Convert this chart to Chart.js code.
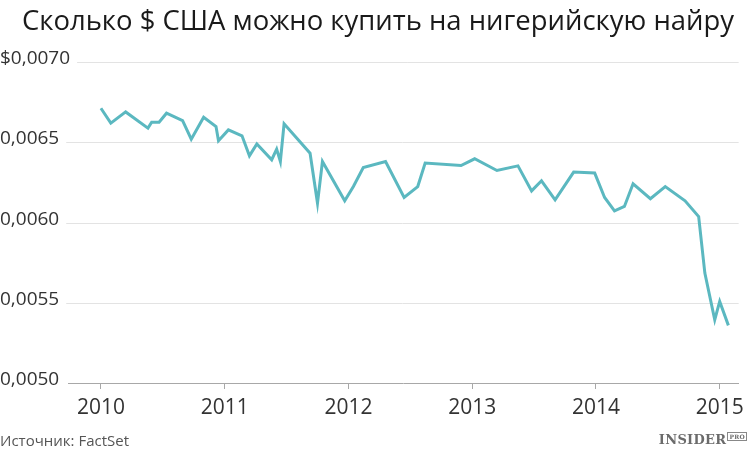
<!DOCTYPE html>
<html>
<head>
<meta charset="utf-8">
<script src="https://cdn.jsdelivr.net/npm/chart.js@4.4.1/dist/chart.umd.min.js"></script>
<style>
  html, body { margin: 0; padding: 0; background: #fff; }
  #wrap { position: relative; width: 750px; height: 456px; overflow: hidden; font-family: "Open Sans", sans-serif; }
  #chart { position: absolute; left: 0; top: 0; }
  #title { position: absolute; left: 22px; top: 0px; font-size: 28px; color: #1a1a1a; white-space: nowrap; transform-origin: 0 0; }
  #source { position: absolute; left: 0; top: 430px; font-size: 15px; color: #555; }
  #logo { position: absolute; right: 3px; top: 432px; font-family: "DejaVu Serif", "Liberation Serif", serif; font-weight: bold; font-size: 13px; color: #6b6b6b; letter-spacing: 0.3px; }
  #logo span { font-size: 6px; border: 1px solid #888; padding: 0 1px; vertical-align: 5px; margin-left: 1px; }
</style>
</head>
<body>
<div id="wrap">
  <canvas id="chart" width="750" height="456"></canvas>
  <div id="title">Сколько $ США можно купить на нигерийскую найру</div>
  <div id="source">Источник: FactSet</div>
  <div id="logo">INSIDER<span>PRO</span></div>
</div>
<script>
// Decimal year of each observation
const dates = [
  2010.00, 2010.08, 2010.20, 2010.38, 2010.41, 2010.47, 2010.53, 2010.66, 2010.73, 2010.83,
  2010.93, 2010.95, 2011.03, 2011.14, 2011.20, 2011.26, 2011.38, 2011.42, 2011.45, 2011.48,
  2011.69, 2011.75, 2011.79, 2011.97, 2012.04, 2012.12, 2012.30, 2012.45, 2012.56, 2012.62,
  2012.91, 2013.02, 2013.20, 2013.37, 2013.48, 2013.56, 2013.67, 2013.82, 2013.99, 2014.07,
  2014.15, 2014.23, 2014.30, 2014.44, 2014.56, 2014.72, 2014.83, 2014.88, 2014.96, 2015.00,
  2015.07
];
// USD per 1 naira
const usdPerNaira = [
  0.006712, 0.006619, 0.006689, 0.006588, 0.006625, 0.006625, 0.006681, 0.006635, 0.006519, 0.006656,
  0.006598, 0.006509, 0.006577, 0.006540, 0.006415, 0.006490, 0.006391, 0.006457, 0.006380, 0.006615,
  0.006432, 0.006121, 0.006380, 0.006135, 0.006224, 0.006343, 0.006380, 0.006156, 0.006224, 0.006370,
  0.006355, 0.006397, 0.006324, 0.006353, 0.006197, 0.006260, 0.006141, 0.006314, 0.006308, 0.006156,
  0.006073, 0.006100, 0.006241, 0.006148, 0.006224, 0.006135, 0.006037, 0.005685, 0.005394, 0.005508,
  0.005359
];
const yearTicks = [2010, 2011, 2012, 2013, 2014, 2015];
const yTicks = [0.0050, 0.0055, 0.0060, 0.0065, 0.0070];
const yTickLabels = ['0,0050', '0,0055', '0,0060', '0,0065', '$0,0070'];

// fit title width to the reference
const titleEl = document.getElementById('title');
const w = titleEl.getBoundingClientRect().width;
titleEl.style.transform = 'scaleX(' + (712 / w) + ')';

// y labels sit left of the gridlines, gridline starts after the label
const yGridPlugin = {
  id: 'yGrid',
  beforeDatasetsDraw(chart) {
    const { ctx, chartArea, scales } = chart;
    ctx.save();
    ctx.font = '19px "Open Sans", sans-serif';
    ctx.textBaseline = 'alphabetic';
    ctx.textAlign = 'left';
    yTicks.forEach((v, i) => {
      const y = Math.round(scales.y.getPixelForValue(v)) + 0.5;
      const label = yTickLabels[i];
      ctx.fillStyle = '#333';
      ctx.fillText(label, 0, y + 1);
      const tw = ctx.measureText(label).width;
      if (i === 0) return; // baseline is drawn by x axis border
      ctx.strokeStyle = '#e3e3e3';
      ctx.lineWidth = 1;
      ctx.beginPath();
      ctx.moveTo(tw + 7, y);
      ctx.lineTo(chartArea.right, y);
      ctx.stroke();
    });
    ctx.restore();
  }
};

new Chart(document.getElementById('chart'), {
  type: 'line',
  data: {
    datasets: [{
      data: dates.map((d, i) => ({ x: d, y: usdPerNaira[i] })),
      borderColor: '#5bb8c0',
      borderWidth: 3,
      pointRadius: 0,
      tension: 0,
      fill: false
    }]
  },
  plugins: [yGridPlugin],
  options: {
    responsive: false,
    animation: false,
    layout: { padding: { left: 68, right: 10, top: 62, bottom: 0 } },
    plugins: { legend: { display: false }, tooltip: { enabled: false } },
    scales: {
      x: {
        type: 'linear',
        min: 2009.734,
        max: 2015.153,
        afterBuildTicks: (scale) => { scale.ticks = yearTicks.map(v => ({ value: v })); },
        afterFit: (scale) => { scale.height = 73; },
        grid: { drawOnChartArea: false, drawTicks: true, tickLength: 6, color: '#a8a8a8' },
        border: { color: '#a8a8a8', width: 1 },
        ticks: {
          padding: 6,
          maxRotation: 0,
          color: '#333',
          font: { family: '"Open Sans", sans-serif', size: 21 },
          callback: (v) => String(v)
        }
      },
      y: {
        display: false,
        min: 0.0050,
        max: 0.0070
      }
    }
  }
});
</script>
</body>
</html>
